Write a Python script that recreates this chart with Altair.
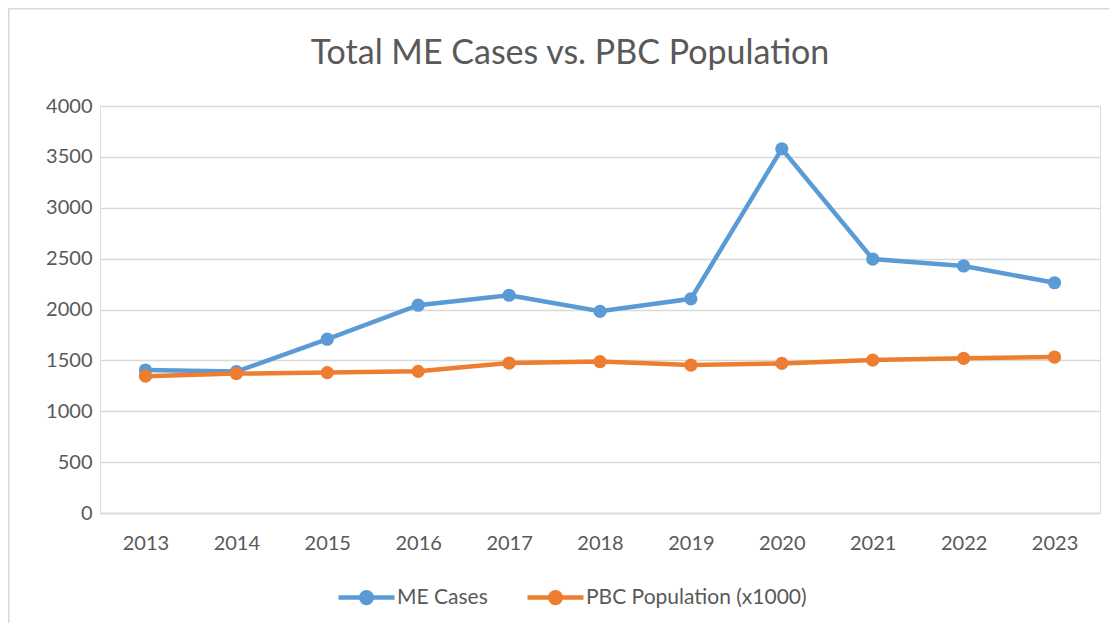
import altair as alt
import pandas as pd

years = ["2013", "2014", "2015", "2016", "2017", "2018", "2019", "2020", "2021", "2022", "2023"]
me_cases = [1405, 1390, 1708, 2042, 2140, 1982, 2105, 3579, 2496, 2428, 2263]
pbc_pop = [1345, 1370, 1380, 1392, 1474, 1488, 1454, 1470, 1503, 1520, 1533]
series_names = ["ME Cases", "PBC Population (x1000)"]
series_colors = ["#5B9BD5", "#ED7D31"]
y_ticks = [0, 500, 1000, 1500, 2000, 2500, 3000, 3500, 4000]

rows = []
for name, vals in zip(series_names, [me_cases, pbc_pop]):
    for y, v in zip(years, vals):
        rows.append({"year": y, "value": v, "series": name})
df = pd.DataFrame(rows)

FONT = "Lato"
TXT = "#595959"
GRID = "#d9d9d9"

legend_path = "M-1,0L1,0M-0.19,0A0.19,0.19,0,1,1,0.19,0A0.19,0.19,0,1,1,-0.19,0Z"

color_scale = alt.Scale(domain=series_names, range=series_colors)

legend = alt.Legend(
    title=None, orient="none", legendX=236, legendY=461,
    direction="horizontal", symbolType=legend_path, symbolSize=3136,
    symbolStrokeWidth=4.5, labelFontSize=21, labelColor=TXT,
    labelFont=FONT, columnPadding=30, labelOffset=0, labelLimit=400,
)

x_enc = alt.X(
    "year:O",
    sort=years,
    scale=alt.Scale(type="point", padding=0.5),
    axis=alt.Axis(
        title=None, labelAngle=0, ticks=False, grid=False, domain=True,
        domainColor=GRID, domainWidth=1.3, labelFontSize=20, labelColor=TXT,
        labelFont=FONT, labelPadding=20,
    ),
)
y_enc = alt.Y(
    "value:Q",
    scale=alt.Scale(domain=[0, 4000], nice=False),
    axis=alt.Axis(
        title=None, values=y_ticks, format="d", ticks=False, domain=False, grid=True,
        gridColor=GRID, gridWidth=1.3, labelFontSize=20, labelColor=TXT,
        labelFont=FONT, labelPadding=8,
    ),
)

layers = []
for i, name in enumerate(series_names):
    base = alt.Chart(df).transform_filter(alt.datum.series == name)
    line = base.mark_line(strokeWidth=4.5).encode(
        x=x_enc, y=y_enc,
        color=alt.Color("series:N", scale=color_scale, legend=legend),
    )
    pts = base.mark_point(filled=True, size=175, opacity=1).encode(
        x=x_enc, y=y_enc,
        color=alt.Color("series:N", scale=color_scale, legend=legend),
    )
    layers += [line, pts]

border = alt.Chart(pd.DataFrame({"k": [0]})).mark_rect(
    fill=None, stroke=GRID, strokeWidth=1.5
).encode(
    x=alt.value(-91.25), x2=alt.value(1200), y=alt.value(-97.25), y2=alt.value(700)
)

chart = alt.layer(border, *layers).properties(
    width=1000,
    height=407,
    title=alt.TitleParams(
        "Total ME Cases vs. PBC Population", fontSize=34, font=FONT, color=TXT,
        fontWeight="normal", anchor="middle", frame="group", dx=-30, offset=0, dy=63,
    ),
    autosize=alt.AutoSizeParams(type="none"),
    padding={"left": 92, "top": 98, "right": 9, "bottom": 110},
).configure_view(stroke=None).configure(font=FONT)

chart.save("out.html", embed_options={"renderer": "svg", "actions": False})
